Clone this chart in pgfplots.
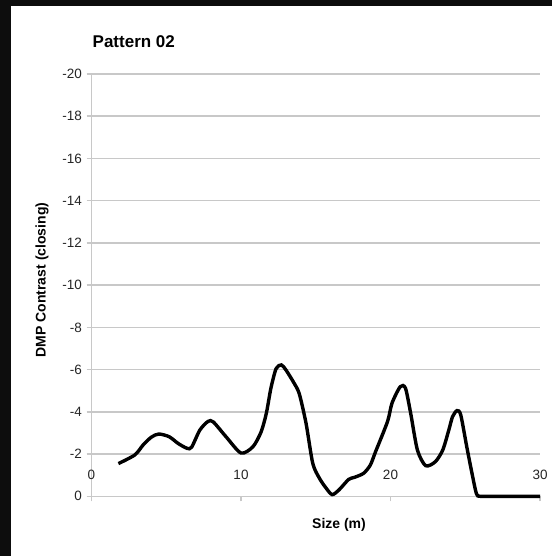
\documentclass[border=0pt]{standalone}
\usepackage{fontspec}
\setmainfont{Liberation Sans}
\usepackage{pgfplots}
\pgfplotsset{compat=1.18}
\definecolor{gridgray}{RGB}{200,200,200}
\begin{document}
\begin{tikzpicture}[x=1pt,y=1pt]
\fill[black!95] (0,0) rectangle (552,556);
\fill[white] (11,0) rectangle (552,550);
\useasboundingbox (0,0) rectangle (552,556);
\begin{axis}[
  at={(91.5pt,59.7pt)}, anchor=south west,
  scale only axis, width=448.5pt, height=422.3pt,
  xmin=0, xmax=30, ymin=-20, ymax=0,
  y dir=reverse,
  clip=false,
  separate axis lines,
  axis x line*=bottom, axis y line*=left,
  axis line style={gridgray, line width=1.5pt, -},
  xtick={0,10,20,30}, xticklabels={0,10,20,30},
  ytick={-20,-18,...,0},
  yticklabels={-20,-18,-16,-14,-12,-10,-8,-6,-4,-2,0},
  ymajorgrids, grid style={gridgray, line width=1.5pt},
  tick align=outside, major tick length=5pt,
  tick style={gridgray, line width=1.5pt},
  ticklabel style={font=\fontsize{13.5}{16}\selectfont, text=black!85},
  xticklabel style={anchor=center, yshift=26pt},
  yticklabel style={anchor=east, xshift=-1pt},
]
\addplot[black, line width=3.4pt, smooth, tension=0.45] coordinates {
(1.8,-1.55) (2.9,-1.96) (3.45,-2.43) (4.0,-2.8) (4.5,-2.95) (5.2,-2.82)
(5.8,-2.5) (6.4,-2.27) (6.7,-2.33) (7.25,-3.14) (7.8,-3.55) (8.15,-3.52)
(9.0,-2.82) (10.0,-2.05) (10.8,-2.35) (11.35,-3.06) (11.7,-3.95) (12.0,-5.12)
(12.35,-6.05) (12.7,-6.22) (13.0,-5.99) (13.55,-5.36) (13.9,-4.85) (14.35,-3.46)
(14.8,-1.56) (15.25,-0.85) (15.7,-0.38) (16.1,-0.08) (16.55,-0.3) (17.2,-0.8)
(17.6,-0.9) (18.2,-1.09) (18.65,-1.48) (19.0,-2.11) (19.8,-3.54) (20.1,-4.41)
(20.65,-5.19) (21.0,-5.12) (21.35,-3.93) (21.8,-2.19) (22.35,-1.45) (23.0,-1.64)
(23.5,-2.2) (23.9,-3.14) (24.15,-3.77) (24.45,-4.06) (24.7,-3.85) (25.1,-2.35)
(25.45,-1.09) (25.75,-0.12) (26.0,0) (27,0) (28,0) (29,0) (30,0)
};
\end{axis}
\node[anchor=base west, inner sep=0pt, font=\fontsize{17}{20}\selectfont\bfseries] at (92.5,508.7) {Pattern 02};
\node[anchor=base, font=\fontsize{14}{17}\selectfont\bfseries] at (339,27.7) {Size (m)};
\node[rotate=90, anchor=center, font=\fontsize{14}{17}\selectfont\bfseries] at (42,276) {DMP Contrast (closing)};
\end{tikzpicture}
\end{document}
